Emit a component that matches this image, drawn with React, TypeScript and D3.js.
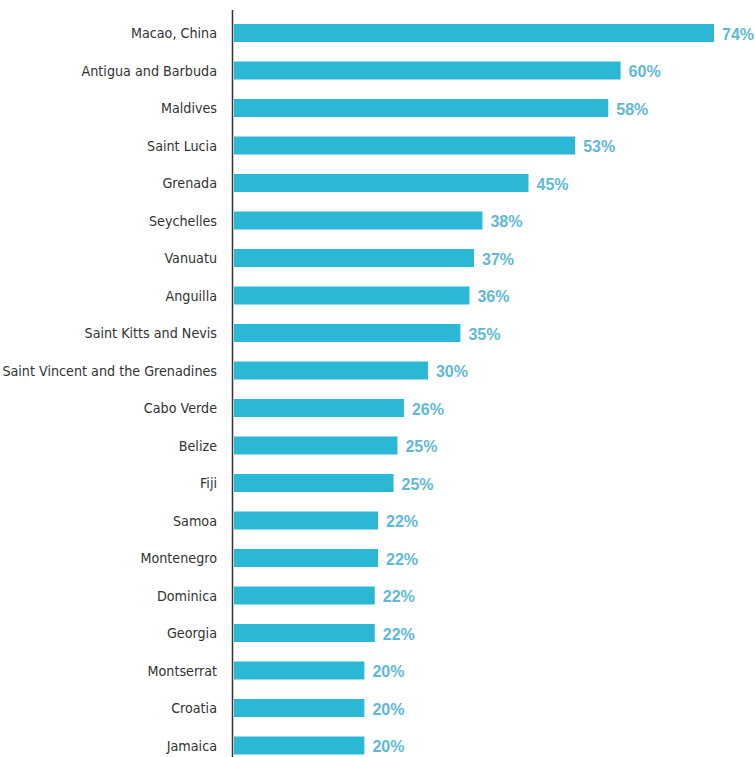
import React from "react";
import * as d3 from "d3";

const countries = [
  "Macao, China",
  "Antigua and Barbuda",
  "Maldives",
  "Saint Lucia",
  "Grenada",
  "Seychelles",
  "Vanuatu",
  "Anguilla",
  "Saint Kitts and Nevis",
  "Saint Vincent and the Grenadines",
  "Cabo Verde",
  "Belize",
  "Fiji",
  "Samoa",
  "Montenegro",
  "Dominica",
  "Georgia",
  "Montserrat",
  "Croatia",
  "Jamaica",
];

const shares = [
  74.0, 59.6, 57.7, 52.6, 45.4, 38.3, 37.0, 36.3, 34.9, 29.9, 26.2, 25.2, 24.6,
  22.2, 22.2, 21.7, 21.7, 20.1, 20.1, 20.1,
];

const valueLabels = [
  "74%", "60%", "58%", "53%", "45%", "38%", "37%", "36%", "35%", "30%",
  "26%", "25%", "25%", "22%", "22%", "22%", "22%", "20%", "20%", "20%",
];

const W = 755;
const H = 757;
const X0 = 234;

export default function App() {
  const x = d3.scaleLinear().domain([0, 74]).range([X0, 714]);
  const y = d3
    .scaleBand<string>()
    .domain(countries)
    .range([14.25, 14.25 + 750])
    .paddingInner(0.52)
    .paddingOuter(0.26);

  return (
    <svg
      width={W}
      height={H}
      style={{ position: "absolute", left: 0, top: 0, background: "#fff" }}
    >
      {countries.map((c, i) => {
        const yc = (y(c) as number) + y.bandwidth() / 2;
        return (
          <g key={c}>
            <rect
              x={x(0)}
              y={y(c)}
              width={x(shares[i]) - x(0)}
              height={y.bandwidth()}
              fill="#2bb8d7"
            />
            <text
              x={217}
              y={yc}
              textAnchor="end"
              dominantBaseline="central"
              fontFamily="'DejaVu Sans Condensed', sans-serif"
              fontSize={14.2}
              fill="#333"
            >
              {c}
            </text>
            <text
              x={x(shares[i]) + 8}
              y={yc + 1}
              textAnchor="start"
              dominantBaseline="central"
              fontFamily="'Liberation Sans', Arial, sans-serif"
              fontWeight="bold"
              fontSize={16}
              fill="#60b9d4"
            >
              {valueLabels[i]}
            </text>
          </g>
        );
      })}
      <line x1={232.5} x2={232.5} y1={10} y2={H} stroke="#333" strokeWidth={1.5} />
    </svg>
  );
}
